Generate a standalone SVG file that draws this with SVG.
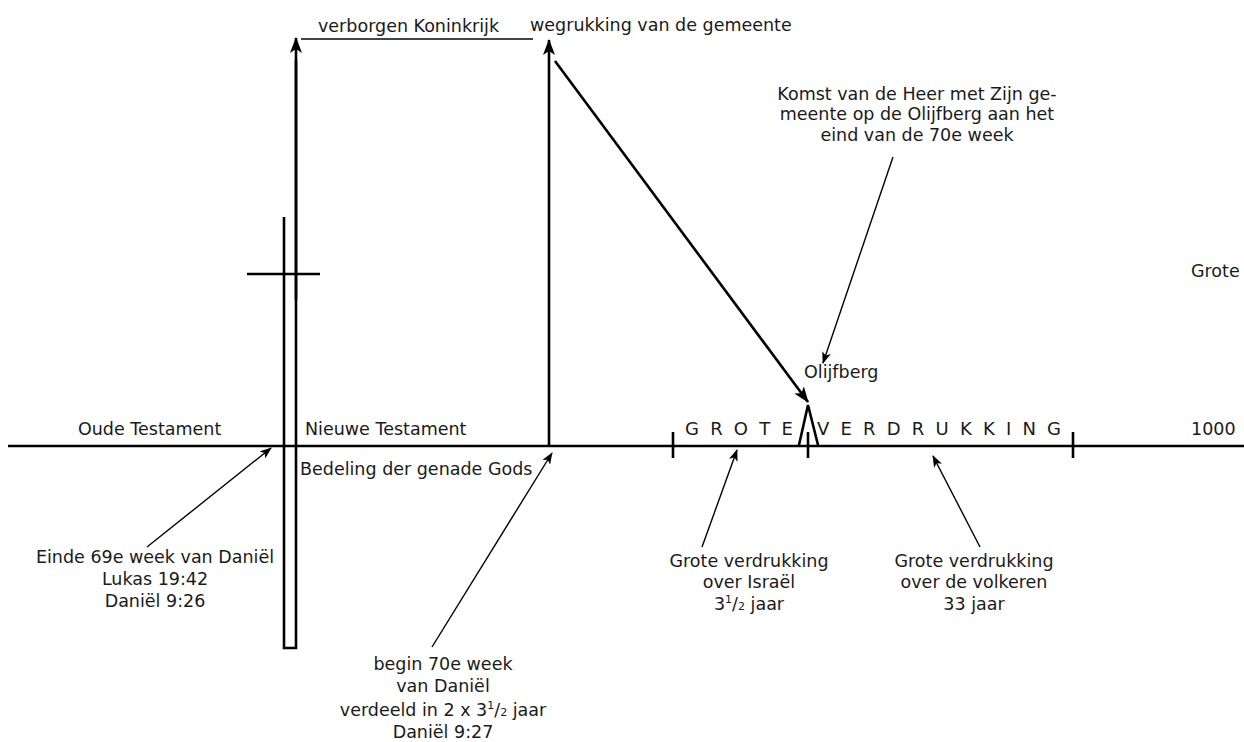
<svg xmlns="http://www.w3.org/2000/svg" width="1244" height="742" viewBox="0 0 1244 742">
<style>
text{font-family:"DejaVu Sans","Liberation Sans",sans-serif;font-size:17.5px;fill:#1a1a1a}
.c{text-anchor:middle}
.caps{font-size:18px;letter-spacing:11.2px}
.sm{font-size:11px}
.thick{stroke:#000;stroke-width:2.6;fill:none}
.thin{stroke:#000;stroke-width:1.4;fill:none}
.gray{stroke:#444;stroke-width:2;fill:none}
</style>
<defs>
<marker id="ah" markerUnits="userSpaceOnUse" viewBox="0 0 16 12" refX="15" refY="6" markerWidth="16" markerHeight="12" orient="auto">
<path d="M0,0 L16,6 L0,12 L4,6 z" fill="#000"/>
</marker>
<marker id="ahs" markerUnits="userSpaceOnUse" viewBox="0 0 12 9" refX="11" refY="4.5" markerWidth="12" markerHeight="9" orient="auto">
<path d="M0,0 L12,4.5 L0,9 L3,4.5 z" fill="#000"/>
</marker>
</defs>
<rect width="1244" height="742" fill="#fff"/>

<g id="timeline">
<line class="thick" x1="8" y1="446" x2="1244" y2="446"/>
<line class="thick" x1="673" y1="432" x2="673" y2="458"/>
<line class="thick" x1="808" y1="432" x2="808" y2="458"/>
<line class="thick" x1="1073" y1="432" x2="1073" y2="458"/>
</g>

<g id="cross">
<polyline class="thick" points="284,217 284,648 296,648 296,60"/>
<line class="thick" x1="247" y1="274" x2="320" y2="274"/>
</g>

<g id="olijfberg-peak">
<polyline class="thick" points="799,445 808,405 818,445"/>
</g>

<g id="connectors">
<line class="thick" x1="296" y1="300" x2="296" y2="38" marker-end="url(#ah)"/>
<line class="gray" x1="301" y1="39" x2="533" y2="39"/>
<line class="thick" x1="549" y1="446" x2="549" y2="40" marker-end="url(#ah)"/>
<line class="thick" x1="555" y1="61" x2="808" y2="402" marker-end="url(#ah)"/>
<line class="thin" x1="893" y1="157" x2="823" y2="363" marker-end="url(#ahs)"/>
<line class="thin" x1="147" y1="547" x2="271" y2="448" marker-end="url(#ahs)"/>
<line class="thin" x1="432" y1="647" x2="552" y2="453" marker-end="url(#ahs)"/>
<line class="thin" x1="702" y1="547" x2="737" y2="450" marker-end="url(#ahs)"/>
<line class="thin" x1="980" y1="547" x2="933" y2="456" marker-end="url(#ahs)"/>
</g>

<g id="top-labels">
<text x="318" y="32">verborgen Koninkrijk</text>
<text x="530" y="31">wegrukking van de gemeente</text>
</g>

<g id="komst">
<text class="c" x="917" y="100">Komst van de Heer met Zijn ge-</text>
<text class="c" x="917" y="120">meente op de Olijfberg aan het</text>
<text class="c" x="917" y="141">eind van de 70e week</text>
</g>

<g id="olijfberg-label">
<text x="804" y="378">Olijfberg</text>
</g>

<g id="right-labels">
<text x="1191" y="277">Grote</text>
<text x="1191" y="435">1000</text>
</g>

<g id="testament-labels">
<text x="78" y="435">Oude Testament</text>
<text x="305" y="435">Nieuwe Testament</text>
<text x="300" y="475">Bedeling der genade Gods</text>
</g>

<g id="grote-verdrukking">
<text class="caps" x="685" y="435">GROTE</text>
<text class="caps" x="817" y="435">VERDRUKKING</text>
</g>

<g id="einde69">
<text class="c" x="155" y="563">Einde 69e week van Daniël</text>
<text class="c" x="155" y="585">Lukas 19:42</text>
<text class="c" x="155" y="607">Daniël 9:26</text>
</g>

<g id="begin70">
<text class="c" x="443" y="670">begin 70e week</text>
<text class="c" x="443" y="692">van Daniël</text>
<text class="c" x="443" y="716">verdeeld in 2 x 3<tspan class="sm" dy="-7">1</tspan><tspan dy="7">/</tspan><tspan class="sm">2</tspan> jaar</text>
<text class="c" x="443" y="738">Daniël 9:27</text>
</g>

<g id="israel">
<text class="c" x="749" y="567">Grote verdrukking</text>
<text class="c" x="749" y="588">over Israël</text>
<text class="c" x="749" y="610">3<tspan class="sm" dy="-7">1</tspan><tspan dy="7">/</tspan><tspan class="sm">2</tspan> jaar</text>
</g>

<g id="volkeren">
<text class="c" x="974" y="567">Grote verdrukking</text>
<text class="c" x="974" y="588">over de volkeren</text>
<text class="c" x="974" y="610">33 jaar</text>
</g>
</svg>
